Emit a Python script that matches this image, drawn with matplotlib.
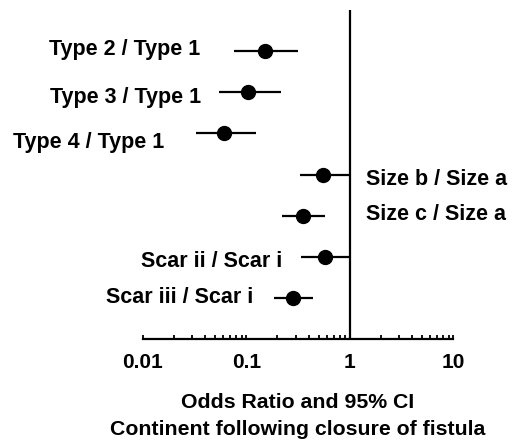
import matplotlib
matplotlib.use("Agg")
import matplotlib.pyplot as plt
import numpy as np

categories = ["Type 2 / Type 1", "Type 3 / Type 1", "Type 4 / Type 1",
              "Size b / Size a", "Size c / Size a",
              "Scar ii / Scar i", "Scar iii / Scar i"]
odds_ratio = [0.151, 0.103, 0.061, 0.545, 0.350, 0.570, 0.282]
ci_low = [0.076, 0.054, 0.033, 0.327, 0.223, 0.340, 0.185]
ci_high = [0.318, 0.218, 0.125, 1.0, 0.574, 1.0, 0.440]
tick_values = [0.01, 0.1, 1, 10]
tick_labels = ["0.01", "0.1", "1", "10"]

# label placement (style)
label_x = [0.0363, 0.0363, 0.0163, 1.44, 1.44, 0.2244, 0.1176]
label_dy = [-0.09, -0.27, -0.35, -0.25, -0.10, -0.24, -0.125]
label_ha = ["right", "right", "right", "left", "left", "right", "right"]

plt.rcParams['font.family'] = ['Liberation Sans', 'DejaVu Sans']
plt.rcParams['font.weight'] = 'bold'

fig = plt.figure(figsize=(5.13, 4.44), dpi=100)
ax = fig.add_axes([0.2782, 0.2358, 0.6055, 0.7417])

n = len(categories)
ypos = np.arange(n, 0, -1)
orv = np.array(odds_ratio)
xerr = [orv - np.array(ci_low), np.array(ci_high) - orv]
ax.errorbar(orv, ypos, xerr=xerr, fmt='o', color='black', ecolor='black',
            elinewidth=1.6, markersize=10, capsize=0, zorder=3)

ax.set_xscale('log')
ax.set_xlim(0.01, 10)
ax.set_ylim(0, 8)
ax.axvline(1, color='black', lw=1.6, zorder=2)

for cat, lx, dy, ha, y in zip(categories, label_x, label_dy, label_ha, ypos):
    ax.text(lx, y + dy, cat, ha=ha, va='baseline', fontsize=15.5,
            fontweight='bold', clip_on=False)

for s in ['left', 'top', 'right']:
    ax.spines[s].set_visible(False)
ax.spines['bottom'].set_linewidth(1.6)
ax.set_yticks([])
ax.set_xticks(tick_values)
ax.set_xticklabels(tick_labels)
ax.tick_params(axis='x', which='both', direction='in', length=3, width=1.3,
               labelsize=15, pad=10)
for lab in ax.get_xticklabels():
    lab.set_fontweight('bold')
ax.set_xlabel("Odds Ratio and 95% CI\nContinent following closure of fistula",
              fontsize=15.3, fontweight='bold', labelpad=15, linespacing=1.55)

fig.savefig("out.png", dpi=100)
